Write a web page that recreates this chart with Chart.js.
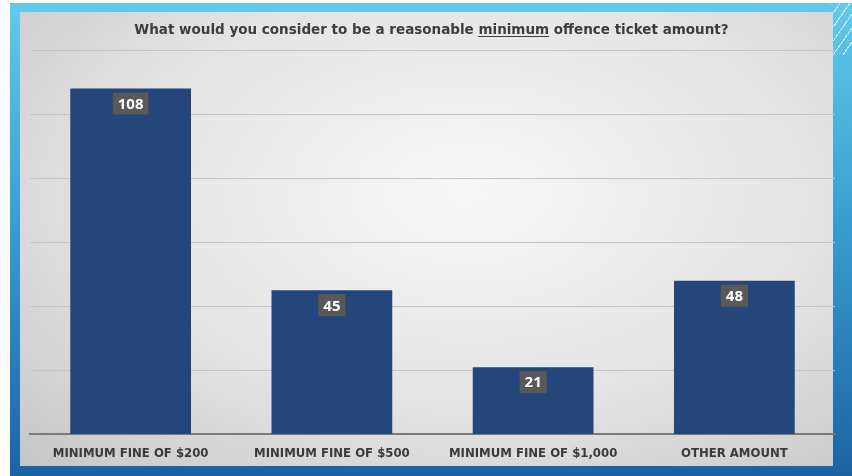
<!DOCTYPE html>
<html>
<head>
<meta charset="utf-8">
<script src="https://cdn.jsdelivr.net/npm/chart.js@4.4.0/dist/chart.umd.min.js"></script>
<style>
  body { margin: 0; background: #fff; width: 852px; height: 476px; overflow: hidden; position: relative; }
  #frame {
    position: absolute; left: 10px; top: 3px; width: 842px; height: 473px;
    background: linear-gradient(to bottom, #62caea 0%, #3a9fd2 45%, #1b63a3 100%);
  }
  #stripes {
    position: absolute; right: 0; top: 0; width: 22px; height: 55px;
    background: repeating-linear-gradient(-55deg, transparent 0 7px, rgba(255,255,255,0.7) 7px 8px);
  }
  #panel {
    position: absolute; left: 20px; top: 12px; width: 813px; height: 454px;
    background: radial-gradient(ellipse at 55% 40%, #f7f7f7 0%, #e4e4e4 55%, #c6c6c6 100%);
  }
  #title {
    position: absolute; left: 20px; top: 21px; width: 823px; text-align: center;
    font: bold 13.5px "DejaVu Sans", sans-serif; color: #3c3c3c;
  }
  #title u { text-underline-offset: 2px; }
  canvas { position: absolute; left: 0; top: 0; }
</style>
</head>
<body>
<div id="frame"></div>
<div id="stripes"></div>
<div id="panel"></div>
<canvas id="myChart" width="852" height="476"></canvas>
<div id="title">What would you consider to be a reasonable <u>minimum</u> offence ticket amount?</div>
<script>
const categories = ["MINIMUM FINE OF $200", "MINIMUM FINE OF $500", "MINIMUM FINE OF $1,000", "OTHER AMOUNT"];
const responses = [108, 45, 21, 48];
const yTicks = [0, 20, 40, 60, 80, 100, 120];

// etiquetas de valor en caja gris
const valueBoxes = {
  id: "valueBoxes",
  afterDatasetsDraw(chart) {
    const ctx = chart.ctx;
    const meta = chart.getDatasetMeta(0);
    ctx.save();
    ctx.font = "bold 15px 'Open Sans', 'DejaVu Sans', sans-serif";
    ctx.textAlign = "center";
    ctx.textBaseline = "middle";
    meta.data.forEach((bar, i) => {
      const txt = String(responses[i]);
      const w = ctx.measureText(txt).width + 10;
      const h = 22;
      const top = bar.y + 4;
      ctx.fillStyle = "#595959";
      ctx.fillRect(bar.x - w / 2, top, w, h);
      ctx.fillStyle = "#ffffff";
      ctx.fillText(txt, bar.x, top + h / 2 + 1);
    });
    ctx.restore();
  },
};

const ctxBar = document.getElementById("myChart");
new Chart(ctxBar, {
  type: "bar",
  data: {
    labels: categories,
    datasets: [
      {
        data: responses,
        backgroundColor: "#24467a",
        categoryPercentage: 0.6,
        barPercentage: 1,
      },
    ],
  },
  options: {
    responsive: false,
    animation: false,
    layout: { padding: { left: 30, right: 17, top: 50, bottom: 4 } },
    plugins: {
      legend: { display: false },
      tooltip: { enabled: false },
    },
    scales: {
      x: {
        grid: { display: false, drawTicks: false },
        border: { color: "#7a7a7a", width: 2 },
        ticks: {
          padding: 11,
          color: "#3a3a3a",
          font: { family: "'Liberation Sans Narrow', 'DejaVu Sans Condensed', sans-serif", size: 13, weight: "bold" },
        },
      },
      y: {
        min: yTicks[0],
        max: yTicks[yTicks.length - 1],
        afterBuildTicks: (axis) => { axis.ticks = yTicks.map((v) => ({ value: v })); },
        ticks: { display: false },
        border: { display: false },
        grid: { color: "#c4c4c4", drawTicks: false },
      },
    },
  },
  plugins: [valueBoxes],
});
</script>
</body>
</html>
